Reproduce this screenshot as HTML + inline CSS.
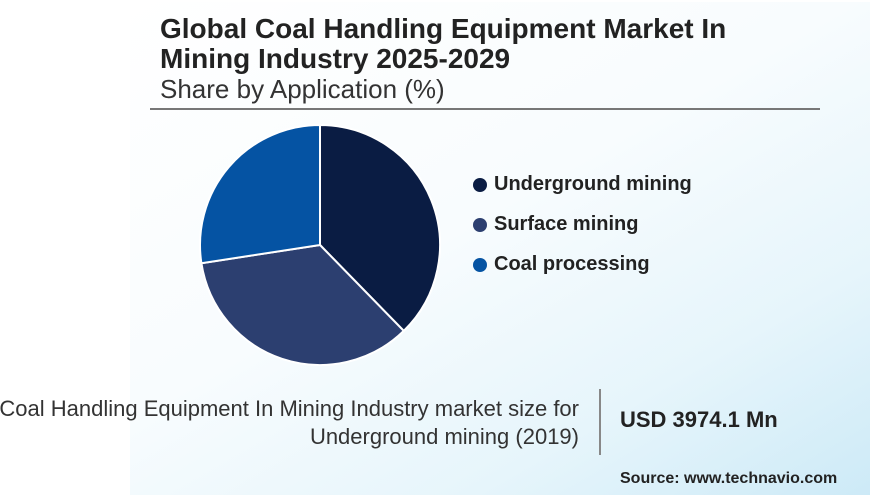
<!DOCTYPE html>
<html><head><meta charset="utf-8"><style>
body{margin:0;width:870px;height:498px;overflow:hidden;background:#fff;font-family:"Liberation Sans",sans-serif;position:relative}
.panel{position:absolute;left:130px;top:2px;width:740px;height:493px;background:linear-gradient(150deg,#ffffff 0%,#f8fcfe 45%,#e6f5fb 75%,#cdeaf7 100%)}
.t{position:absolute;color:#222;white-space:nowrap}
</style></head><body>
<div class="panel"></div>
<div class="t" style="left:160px;top:14px;font-size:28px;font-weight:bold;line-height:30px;color:#222">Global Coal Handling Equipment Market In<br>Mining Industry 2025-2029</div>
<div class="t" style="left:160px;top:74px;font-size:26px;color:#333">Share by Application (%)</div>
<div style="position:absolute;left:150px;top:108px;width:670px;height:2px;background:#777"></div>
<svg style="position:absolute;left:0;top:0" width="870" height="498">
<path d="M320,245 L320,125 A120,120 0 0 1 403.8,330.9 Z" fill="#0a1c43" stroke="#fff" stroke-width="2"/>
<path d="M320,245 L403.8,330.9 A120,120 0 0 1 201.4,263.2 Z" fill="#2c3f70" stroke="#fff" stroke-width="2"/>
<path d="M320,245 L201.4,263.2 A120,120 0 0 1 320,125 Z" fill="#0553a3" stroke="#fff" stroke-width="2"/>
<ellipse cx="480" cy="185" rx="7" ry="7" fill="#0a1c43"/>
<ellipse cx="480" cy="225" rx="7" ry="7" fill="#2c3f70"/>
<ellipse cx="480" cy="265" rx="7" ry="7" fill="#0553a3"/>
</svg>
<div class="t" style="left:494px;top:173px;font-size:20px;font-weight:bold">Underground mining</div>
<div class="t" style="left:494px;top:213px;font-size:20px;font-weight:bold">Surface mining</div>
<div class="t" style="left:494px;top:253px;font-size:20px;font-weight:bold">Coal processing</div>
<div class="t" style="right:291px;top:395px;font-size:22px;line-height:28px;text-align:right;color:#333">Coal Handling Equipment In Mining Industry market size for<br>Underground mining (2019)</div>
<div style="position:absolute;left:599px;top:389px;width:2px;height:66px;background:#888"></div>
<div class="t" style="left:620px;top:407px;font-size:22px;font-weight:bold">USD 3974.1 Mn</div>
<div class="t" style="left:620px;top:470px;font-size:16px;font-weight:bold">Source: www.technavio.com</div>
</body></html>
